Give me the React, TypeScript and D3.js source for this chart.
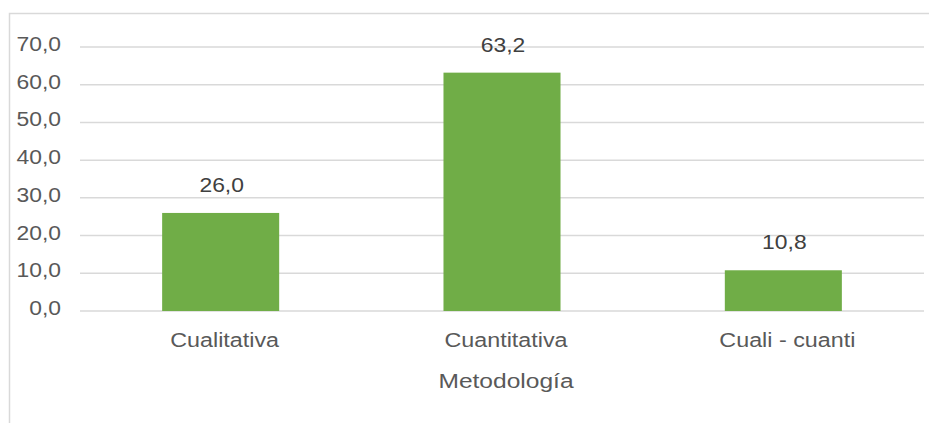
import React from "react";
import * as d3 from "d3";

const categories = ["Cualitativa", "Cuantitativa", "Cuali - cuanti"];
const values = [26.0, 63.2, 10.8];
const yTicks = [0, 10, 20, 30, 40, 50, 60, 70];
const axisTitle = "Metodología";

const width = 929;
const height = 423;
const plotLeft = 80;
const plotRight = 924;
const plotTop = 47;
const plotBottom = 311;

const fmt = (v: number) => v.toFixed(1).replace(".", ",");

export default function App() {
  const x = d3.scaleBand<string>().domain(categories).range([plotLeft, plotRight]).padding(0);
  const y = d3.scaleLinear([0, 70], [plotBottom, plotTop]);
  const barW = x.bandwidth() * 0.416;
  const font = "'Liberation Sans', Arial, sans-serif";
  const sx = 1.09;

  return (
    <svg
      width={width}
      height={height}
      style={{ position: "absolute", left: 0, top: 0, background: "#fff" }}
      fontFamily={font}
    >
      {/* frame of the chart, cut at the right and bottom */}
      <path d={`M9.5,${height} V13.5 H${width}`} fill="none" stroke="#d9d9d9" strokeWidth={1.5} />

      {/* grid */}
      <g stroke="#d9d9d9" strokeWidth={1.5}>
        {yTicks.map((t) => (
          <line key={t} x1={plotLeft} x2={plotRight} y1={y(t)} y2={y(t)} />
        ))}
      </g>

      {/* y tick labels */}
      <g fill="#595959" fontSize={21} textAnchor="end">
        {yTicks.map((t) => (
          <text key={t} transform={`translate(61,${y(t) + 4}) scale(${sx},1)`}>
            {fmt(t)}
          </text>
        ))}
      </g>

      {/* bars */}
      <g fill="#70ad47">
        {values.map((v, i) => (
          <rect
            key={i}
            x={x(categories[i])! + (x.bandwidth() - barW) / 2}
            y={y(v)}
            width={barW}
            height={y(0) - y(v)}
          />
        ))}
      </g>

      {/* value labels */}
      <g fill="#404040" fontSize={21} textAnchor="middle">
        {values.map((v, i) => (
          <text
            key={i}
            transform={`translate(${x(categories[i])! + x.bandwidth() / 2 + 1},${y(v) - 21}) scale(${sx},1)`}
          >
            {fmt(v)}
          </text>
        ))}
      </g>

      {/* category labels */}
      <g fill="#595959" fontSize={21} textAnchor="middle">
        {categories.map((c) => (
          <text key={c} transform={`translate(${x(c)! + x.bandwidth() / 2 + 4},${plotBottom + 36}) scale(1.11,1)`}>
            {c}
          </text>
        ))}
      </g>

      {/* axis title */}
      <text
        fill="#595959"
        fontSize={21}
        textAnchor="middle"
        transform={`translate(${(plotLeft + plotRight) / 2 + 4},388) scale(1.17,1)`}
      >
        {axisTitle}
      </text>
    </svg>
  );
}
